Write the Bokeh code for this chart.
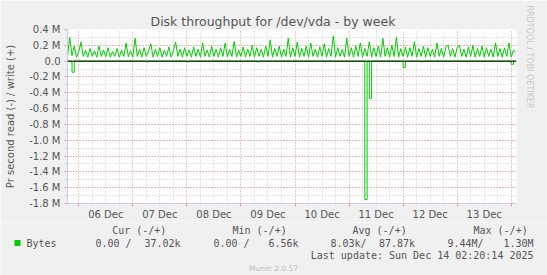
import pandas as pd
from bokeh.plotting import figure
from bokeh.layouts import column
from bokeh.core.properties import value
from bokeh.models import (Range1d, FixedTicker, SingleIntervalTicker, DatetimeTickFormatter,
                          CustomJSTickFormatter, Span, Title)
from bokeh.embed import file_html
from bokeh.resources import INLINE

# ---------------- data ----------------
range_start = "2025-12-05 19:00"
range_end = "2025-12-14 02:20"
series_start = "2025-12-05 19:00"   # hourly samples

# write (+) bytes/s, thousands, hourly
write_k = [
    60, 300, 70, 190, 50, 120, 240, 60, 140, 50, 160, 60, 130, 50, 190, 60, 140, 55, 170, 50,
    120, 60, 160, 50, 140, 60, 230, 55, 130, 50, 290, 60, 150, 50, 170, 60, 130, 220, 50, 150,
    60, 170, 50, 140, 60, 180, 50, 130, 240, 60, 150, 50, 170, 60, 140, 50, 180, 60, 150, 50,
    230, 60, 140, 50, 190, 60, 150, 50, 170, 60, 230, 55, 150, 60, 250, 50, 140, 60, 180, 50,
    150, 60, 200, 50, 170, 60, 150, 50, 190, 60, 270, 50, 160, 60, 190, 50, 150, 60, 290, 50,
    170, 60, 240, 50, 160, 60, 190, 50, 230, 60, 150, 50, 180, 60, 220, 50, 160, 60, 320, 50,
    170, 60, 150, 50, 290, 60, 170, 50, 190, 60, 230, 50, 160, 60, 245, 50, 170, 60, 190, 50,
    290, 60, 170, 50, 200, 60, 300, 50, 160, 60, 180, 50, 170, 60, 245, 50, 160, 60, 190, 50,
    170, 60, 150, 50, 230, 60, 160, 50, 180, 200, 60, 160, 50, 170, 200, 60, 150, 50, 180, 60,
    200, 50, 160, 60, 190, 50, 170, 60, 150, 50, 230, 60, 160, 50, 170, 60, 230, 50, 140, 110,
]

# read (-) bytes/s, thousands: non-zero hours only
read_times = ["2025-12-05 21:00", "2025-12-07 06:00", "2025-12-08 00:00", "2025-12-09 07:00",
              "2025-12-11 07:00", "2025-12-11 09:00", "2025-12-12 00:00", "2025-12-12 08:00",
              "2025-12-14 00:00"]
read_vals_k = [-140, -10, -10, -10, -1750, -470, -80, -10, -40]

day_labels_noon = pd.date_range("2025-12-06 12:00", "2025-12-13 12:00", freq="D")
legend_headers = ["Cur (-/+)", "Min (-/+)", "Avg (-/+)", "Max (-/+)"]
read_stats = ["0.00 /", "0.00 /", "8.03k/", "9.44M/"]
write_stats = ["37.02k", "6.56k", "87.87k", "1.30M"]
series_name = "Bytes"
last_update = "Last update: Sun Dec 14 02:20:14 2025"
title_text = "Disk throughput for /dev/vda - by week"
y_label = "Pr second read (-) / write (+)"

# ---------------- build ----------------
times = pd.date_range(series_start, periods=len(write_k), freq="h")
write_vals = [v * 1000 for v in write_k]
read_full = pd.Series(0.0, index=times)
for t, v in zip(read_times, read_vals_k):
    read_full[pd.Timestamp(t)] = v * 1000

W = 547
FL, FR, FT, FB = 67, 516, 29, 204
H1 = 222            # main figure height
H2 = 275 - H1       # legend strip height
GREEN = "#00CC00"
TXT = "#555555"
AXC = "#C8C8F4"
RED = "#F08C8C"
GRAY = "#C8C8C8"
BG = "#F0F0F0"

p = figure(width=W, height=H1, x_axis_type="datetime",
           x_range=Range1d(pd.Timestamp(range_start), pd.Timestamp(range_end)),
           y_range=Range1d(-1.8e6, 0.4e6),
           min_border_left=FL, min_border_right=W - FR, min_border_top=FT, min_border_bottom=H1 - FB,
           background_fill_color="white", border_fill_color=BG, frame_align=False,
           outline_line_color=None, output_backend="svg", toolbar_location=None)

p.title = Title(text=title_text, align="left", offset=150 - FL, standoff=2,
                text_font="DejaVu Sans", text_font_size="12.5px", text_font_style="normal",
                text_color=TXT)
p.add_layout(Title(text="RRDTOOL / TOBI OETIKER", align="left", offset=-24, standoff=17,
                   text_font="DejaVu Sans", text_font_size="8px", text_font_style="normal",
                   text_color=GRAY), "right")

midnights = pd.date_range("2025-12-06", "2025-12-14", freq="D")
six_h = [t for t in pd.date_range("2025-12-05 18:00", "2025-12-14 06:00", freq="6h") if t.hour != 0]
ms = lambda ts: [t.value // 10**6 for t in ts]

# x axis
p.xaxis.ticker = FixedTicker(ticks=ms(day_labels_noon), minor_ticks=ms(midnights))
p.xaxis.formatter = DatetimeTickFormatter(days="%d %b", hours="%d %b", months="%d %b",
                                          years="%d %b", minutes="%d %b", hourmin="%d %b")
p.xaxis.major_tick_line_color = None
p.xaxis.major_tick_out = 0
p.xaxis.minor_tick_line_color = RED
p.xaxis.minor_tick_out = 3
p.xaxis.minor_tick_in = 0
p.xaxis.major_label_standoff = 2
p.xaxis.axis_line_color = AXC
p.xaxis.major_label_text_font = "DejaVu Sans"
p.xaxis.major_label_text_font_size = "10px"
p.xaxis.major_label_text_color = TXT

p.xgrid.ticker = FixedTicker(ticks=ms(midnights), minor_ticks=ms(six_h))
p.xgrid.grid_line_color = RED
p.xgrid.grid_line_dash = "1 2"
p.xgrid.minor_grid_line_color = GRAY
p.xgrid.minor_grid_line_dash = "1 2"

# y axis
p.yaxis.ticker = SingleIntervalTicker(interval=200000, num_minor_ticks=2)
p.yaxis.formatter = CustomJSTickFormatter(
    code="return Math.abs(tick) < 1 ? '0.0' : (tick/1e6).toFixed(1) + ' M';")
p.yaxis.major_tick_line_color = RED
p.yaxis.major_tick_out = 3
p.yaxis.major_tick_in = 0
p.yaxis.minor_tick_line_color = GRAY
p.yaxis.minor_tick_out = 2
p.yaxis.minor_tick_in = 0
p.yaxis.major_label_standoff = 4
p.yaxis.axis_line_color = AXC
p.yaxis.major_label_text_font = "DejaVu Sans"
p.yaxis.major_label_text_font_size = "10px"
p.yaxis.major_label_text_color = TXT
p.yaxis.axis_label = y_label
p.yaxis.axis_label_text_font = "DejaVu Sans"
p.yaxis.axis_label_text_font_size = "10px"
p.yaxis.axis_label_text_font_style = "normal"
p.yaxis.axis_label_text_color = TXT
p.yaxis.axis_label_standoff = 10

p.ygrid.grid_line_color = RED
p.ygrid.grid_line_dash = "1 2"
p.ygrid.minor_grid_line_color = GRAY
p.ygrid.minor_grid_line_dash = "1 2"

# data
p.line(times, write_vals, line_color=GREEN, line_width=1)
p.step(read_full.index, read_full.values, mode="after", line_color=GREEN, line_width=1)
p.add_layout(Span(location=0, dimension="width", line_color="black", line_width=1))

# ---------------- legend strip (pixel coordinates, y downward) ----------------
p2 = figure(width=W, height=H2, x_range=Range1d(0, W), y_range=Range1d(275, H1),
            min_border=0, min_border_left=0, min_border_right=0, min_border_top=0,
            min_border_bottom=0, background_fill_color=BG, border_fill_color=BG,
            frame_align=False,
            outline_line_color=None, output_backend="svg", toolbar_location=None)
p2.axis.visible = False
p2.grid.visible = False


def txt(xs, ys, texts, align="left", size="10px", color=TXT, font="DejaVu Sans Mono"):
    p2.text(x=xs, y=ys, text=texts, text_align=align, text_baseline="middle",
            text_font=value(font), text_font_size=value(size), text_color=color)


hx = [111.7, 232, 352, 473]
rx = [95, 213, 330, 447]
wx = [180, 298, 414.5, 533]
y_head, y_row, y_upd, y_mun = 230, 242.5, 255, 268
txt(hx, [y_head] * 4, legend_headers)
p2.scatter(x=[17], y=[y_row], marker="square", size=6, fill_color=GREEN, line_color=None)
txt([26], [y_row], [series_name])
txt(rx, [y_row] * 4, read_stats)
txt(wx, [y_row] * 4, write_stats, align="right")
txt([533], [y_upd], [last_update], align="right")
txt([273], [y_mun], ["Munin 2.0.57"], align="center", size="7.5px", color="#BBBBBB",
    font="DejaVu Sans")

layout = column(p, p2, spacing=0)
open("out.html", "w").write(file_html(layout, INLINE))
